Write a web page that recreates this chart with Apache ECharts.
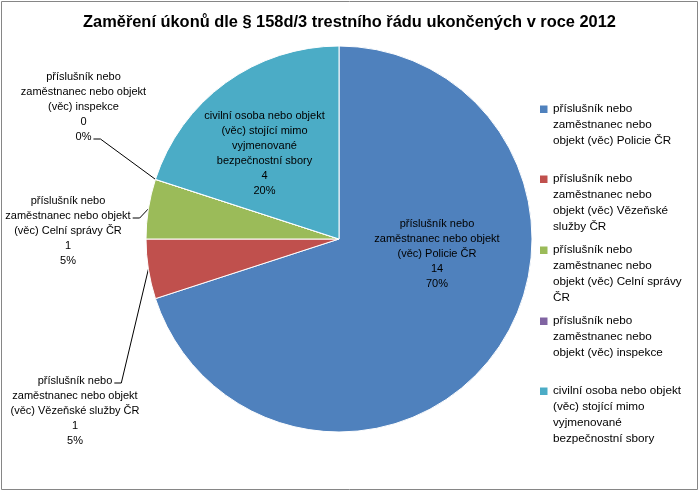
<!DOCTYPE html>
<html><head><meta charset="utf-8">
<script src="https://cdn.jsdelivr.net/npm/echarts@6/dist/echarts.min.js"></script>
<style>html,body{margin:0;padding:0;background:#fff}#c{width:699px;height:492px}</style>
</head><body><div id="c"></div>
<script>
const chartTitle = 'Zaměření úkonů dle § 158d/3 trestního řádu ukončených v roce 2012';
const categories = [
  'příslušník nebo\nzaměstnanec nebo\nobjekt (věc) Policie ČR',
  'příslušník nebo\nzaměstnanec nebo\nobjekt (věc) Vězeňské\nslužby ČR',
  'příslušník nebo\nzaměstnanec nebo\nobjekt (věc) Celní správy\nČR',
  'příslušník nebo\nzaměstnanec nebo\nobjekt (věc) inspekce',
  'civilní osoba nebo objekt\n(věc) stojící mimo\nvyjmenované\nbezpečnostní sbory'
];
const labelNames = [
  'příslušník nebo\nzaměstnanec nebo objekt\n(věc) Policie ČR',
  'příslušník nebo\nzaměstnanec nebo objekt\n(věc) Vězeňské služby ČR',
  'příslušník nebo\nzaměstnanec nebo objekt\n(věc) Celní správy ČR',
  'příslušník nebo\nzaměstnanec nebo objekt\n(věc) inspekce',
  'civilní osoba nebo objekt\n(věc) stojící mimo\nvyjmenované\nbezpečnostní sbory'
];
const values = [14, 1, 1, 0, 4];
const colors = ['#4F81BD', '#C0504D', '#9BBB59', '#8064A2', '#4BACC6'];

// layout (not data)
const FONT = 'Liberation Sans';
const LABEL_FS = 11, LABEL_LH = 15;
const labelPos = [[437, 254], [75, 411], [68, 231], [83.5, 107], [264.5, 153]];
const labelInside = [true, false, false, false, true];
const attachLine = [null, 0, 1, 4, null];
const legendY = [109, 179, 250, 321, 391];
const LEG_LH = 16;

const ctx = document.createElement('canvas').getContext('2d');
ctx.font = LABEL_FS + 'px "' + FONT + '"';

const data = categories.map((c, i) => ({
  name: c,
  value: values[i],
  itemStyle: { color: colors[i] },
  label: { position: labelInside[i] ? 'inside' : 'outside' },
  labelLine: { show: !labelInside[i] }
}));

const legends = categories.map((c, i) => {
  const h = c.split('\n').length * LEG_LH;
  return {
    data: [c],
    left: 540,
    top: legendY[i] - LEG_LH / 2,
    orient: 'vertical',
    padding: 0,
    // square aligned with the first text line; extra moveTo points set the icon box height
    icon: 'path://M0,0 M0,4.5h7.5v7.5h-7.5z M8,' + h,
    itemWidth: 8,
    itemHeight: h,
    itemStyle: { borderWidth: 0 },
    selectedMode: false,
    textStyle: { fontFamily: FONT, fontSize: 11.7, lineHeight: LEG_LH, color: '#000' }
  };
});

const chart = echarts.init(document.getElementById('c'), null, { renderer: 'canvas' });
chart.setOption({
  animation: false,
  backgroundColor: '#fff',
  title: {
    text: chartTitle,
    left: 'center',
    top: 9,
    textStyle: { fontFamily: FONT, fontSize: 16.4, fontWeight: 'bold', color: '#000' }
  },
  legend: legends,
  graphic: [{
    type: 'rect',
    shape: { x: 1.5, y: 1.5, width: 696, height: 488 },
    style: { fill: null, stroke: '#868686', lineWidth: 1 },
    silent: true
  }],
  series: [{
    type: 'pie',
    center: [339, 239],
    radius: 193,
    startAngle: 90,
    clockwise: true,
    avoidLabelOverlap: false,
    itemStyle: { borderColor: '#fff', borderWidth: 1 },
    emphasis: { disabled: true },
    label: {
      show: true,
      fontFamily: FONT,
      fontSize: LABEL_FS,
      lineHeight: LABEL_LH,
      color: '#000',
      align: 'center',
      formatter: p => labelNames[p.dataIndex] + '\n' + p.value + '\n' + Math.round(p.percent) + '%'
    },
    labelLine: { show: true, length: 10, length2: 7, lineStyle: { color: '#000', width: 1 } },
    labelLayout: function (p) {
      const i = p.dataIndex;
      const pos = labelPos[i];
      const res = { x: pos[0], y: pos[1], align: 'center', verticalAlign: 'middle' };
      if (attachLine[i] != null && p.labelLinePoints) {
        const lines = p.text.split('\n');
        const k = attachLine[i];
        const w = ctx.measureText(lines[k]).width;
        const ax = pos[0] + w / 2 + 2;
        const ay = pos[1] + (k - (lines.length - 1) / 2) * LABEL_LH + 2;
        res.labelLinePoints = [p.labelLinePoints[0], [ax + 7, ay], [ax, ay]];
      }
      return res;
    },
    data: data
  }]
});
</script>
</body></html>
